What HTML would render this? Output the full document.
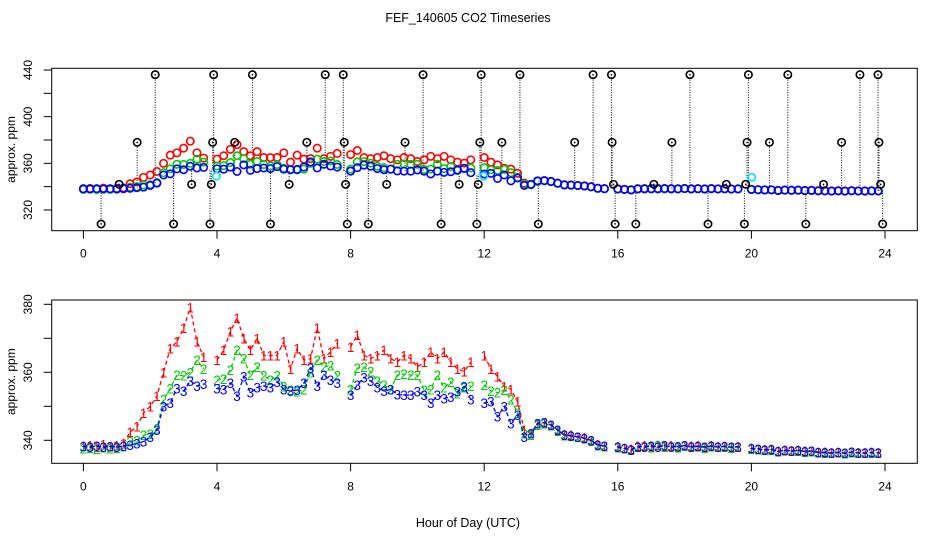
<!DOCTYPE html>
<html><head><meta charset="utf-8"><style>
html,body{margin:0;padding:0;background:#fff;}
svg{display:block;font-family:"Liberation Sans",sans-serif;}
</style></head><body>
<svg id="chart" width="936" height="540" viewBox="0 0 936 540" xmlns="http://www.w3.org/2000/svg">
<rect width="936" height="540" fill="#fff"/>
<text x="468" y="22" text-anchor="middle" font-size="12.5">FEF_140605  CO2 Timeseries</text>
<text x="468" y="527" text-anchor="middle" font-size="12.5">Hour of Day (UTC)</text>
<g id="top"></g>
<g id="bot"></g>
</svg>
<script>
const startHour = 0;
const stepHour = 0.2;
const xTicks = [0, 4, 8, 12, 16, 20, 24];
const topYTicks = [320, 340, 360, 380, 400, 420, 440];
const topYLabels = ["320", "", "360", "", "400", "", "440"];
const botYTicks = [340, 350, 360, 370, 380];
const botYLabels = ["340", "", "360", "", "380"];
const red = [338.3,338.5,338,338.8,338.2,338.5,339,342.5,344,348,350,353,360,367,369,373,379,369,364.5,null,
363.6,366.5,372,376,370,366.5,370,365,364.9,365,369,361,367,363.6,364,373,364,366,368.5,null,
367.5,371,365,364,365,366.5,364,363,365,364,361.6,363,366,364,366,363,361,360.2,363,null,
365,361,358.7,355.8,355,351.4,343,342,345,345.2,344.5,343,341.7,341.5,341,340.8,340,338.8,338.3,null,
338.2,337.8,337.4,338.3,338.4,338.2,338.6,338.3,338.4,338.2,338.5,338.3,338.4,338.1,338.4,338.2,338.3,338,338.2,null,
337.7,337.5,337.3,337.4,336.9,337.2,337,337.1,336.8,336.9,336.6,336.5,336.4,336.6,336.3,336.6,336.4,336.4,336.5,336.4];
const green = [337.6,337.8,337.5,337.9,337.6,337.8,338.2,339.6,340,341.5,341.8,343.5,352,355.3,359.2,359,360,363.6,361,null,
357.7,358,360.7,366.5,364,359.2,361.6,359,357.7,359,355.8,354.8,354.3,355,360,363.6,361.6,362,359,null,
355,361.2,361.5,360.2,357.5,356.3,355,359.2,359.5,359.2,359.2,354.8,355,359.2,355.5,357.2,353.8,355.5,356,null,
356.3,354.5,354,354.8,352,348,342,341.5,344.5,345,344.3,342.8,341.4,341.2,340.9,340.5,339.8,338.5,338.2,null,
337.9,337.6,337.1,338,338.2,337.9,338.4,338.1,338.2,337.9,338.3,338.1,338.2,337.8,338.2,338,338.1,337.8,338,null,
337.5,337.3,337.1,337.2,336.7,337,336.8,336.9,336.6,336.7,336.4,336.3,336.2,336.4,336.1,336.4,336.2,336.2,336.3,336.2];
const blue = [338.2,338,338.3,338,338.2,338.1,338.3,338.6,339.1,339.6,341,343,350,351,355.3,354.5,357.5,356,356.5,null,
355.3,355,356.8,353,358.7,354,355.5,356,355.5,357.2,355,354.5,354.8,356.8,361.2,356,359.2,357.7,356.8,null,
353.3,356.3,358.5,357.5,355.5,354.5,355,353.5,353.3,353.3,354.3,353.3,350.9,353.3,352.3,352.8,354.3,355.8,352,null,
350.9,351.4,347,350,345,347.4,341,342,345,345.2,344.5,343,341.5,341.3,341,340.6,339.9,338.6,338.3,null,
338,337.6,337.2,338.1,338.1,338.3,338,338.4,338.1,338.2,338.4,338,338.2,338.1,338.3,338,338.2,338,338.1,null,
337.6,337.4,337.2,337.3,336.7,337,336.9,337,336.7,336.8,336.4,336.4,336.2,336.4,336.2,336.5,336.3,336.2,336.4,336.3];
const spikeHours = [0.53,1.07,1.61,2.15,2.7,3.24,3.79,3.83,3.87,3.9,4.53,5.06,5.6,6.16,6.69,7.24,7.78,7.81,7.85,7.9,8.53,9.08,9.63,10.17,10.71,11.25,11.78,11.82,11.87,11.91,12.53,13.07,13.62,14.71,15.26,15.81,15.83,15.87,15.92,16.54,17.08,17.62,18.16,18.7,19.25,19.79,19.83,19.87,19.91,20.54,21.09,21.63,22.16,22.7,23.25,23.79,23.82,23.87,23.93];
const spikeValues = [308,342,378,436,308,342,308,342,378,436,378,436,308,342,378,436,436,378,342,308,308,342,378,436,308,342,308,342,378,436,378,436,308,378,436,436,378,342,308,308,342,378,436,308,342,308,342,378,436,378,436,308,342,378,436,436,378,342,308];
const cyanHours = [3.98, 11.98, 20.01];
const cyanValues = [349, 349, 348];

const NS = "http://www.w3.org/2000/svg";
function mk(tag, attrs, parent){const e=document.createElementNS(NS,tag);for(const k in attrs)e.setAttribute(k,attrs[k]);parent.appendChild(e);return e;}
const X0 = 83.4, XS = 33.4;
function xs(h){return X0 + h*XS;}
const topP = {l:51.7,r:917.3,t:68.3,b:230.7, y:v=>210-(v-320)*1.1667};
const botP = {l:51.7,r:917.3,t:300,b:463.3, y:v=>440.3-(v-340)*3.4};
function hourAt(i){return startHour + i*stepHour;}

function frame(g,P,ticks,labels,name){
  const box = mk('rect',{x:P.l,y:P.t,width:P.r-P.l,height:P.b-P.t,fill:'none',stroke:'#000','stroke-width':1},g);
  
  
  xTicks.forEach(h=>{
    const t = mk('line',{x1:xs(h),x2:xs(h),y1:P.b,y2:P.b+8,stroke:'#000'},g);
    
    
    const tx = mk('text',{x:xs(h),y:P.b+27,'text-anchor':'middle','font-size':12},g);
    tx.textContent = String(h);
    
    
  });
  ticks.forEach((v,i)=>{
    const y = P.y(v);
    const t = mk('line',{x1:P.l-8,x2:P.l,y1:y,y2:y,stroke:'#000'},g);
    
    
    if(labels[i]){
      const tx = mk('text',{x:0,y:0,transform:`translate(32,${y}) rotate(-90)`,'text-anchor':'middle','font-size':12},g);
      tx.textContent = labels[i];
      
      
    }
  });
  const yt = mk('text',{x:0,y:0,transform:`translate(15,${(P.t+P.b)/2}) rotate(-90)`,'text-anchor':'middle','font-size':12},g);
  yt.textContent = 'approx. ppm';
  
  
}

// TOP PANEL
const gt = document.getElementById('top');


frame(gt, topP, topYTicks, topYLabels, 'top');
spikeHours.forEach((h,i)=>{
  const idx = Math.min(blue.length-1, Math.round((h-startHour)/stepHour));
  let base = blue[idx]; if(base==null) base = blue[idx+1]!=null?blue[idx+1]:blue[idx-1];
  const ln = mk('line',{x1:xs(h),x2:xs(h),y1:topP.y(spikeValues[i]),y2:topP.y(base),stroke:'#000','stroke-width':1,'stroke-dasharray':'1,1.5'},gt);
  
  
});
[[red,'#ff0000','red'],[green,'#00cc00','green'],[blue,'#0000ff','blue']].forEach(([arr,col,nm])=>{
  arr.forEach((v,i)=>{
    if(v==null) return;
    const c = mk('circle',{cx:xs(hourAt(i)),cy:topP.y(v),r:3.7,fill:'none',stroke:col,'stroke-width':1.6},gt);
    
    
  });
});
cyanHours.forEach((h,i)=>{
  const c = mk('circle',{cx:xs(h),cy:topP.y(cyanValues[i]),r:3.7,fill:'none',stroke:'#00e5ee','stroke-width':1.6},gt);
  
  
});
spikeHours.forEach((h,i)=>{
  const c = mk('circle',{cx:xs(h),cy:topP.y(spikeValues[i]),r:3.7,fill:'none',stroke:'#000','stroke-width':1.6},gt);
  
  
  mk('circle',{cx:xs(h),cy:topP.y(spikeValues[i]),r:0.8,fill:'#000'},gt);
});

// BOTTOM PANEL
const gb = document.getElementById('bot');


frame(gb, botP, botYTicks, botYLabels, 'bottom');
[[red,'#ff0000','1','red'],[green,'#00cc00','2','green'],[blue,'#0000ff','3','blue']].forEach(([arr,col,ch,nm])=>{
  let seg = [];
  const segs = [];
  arr.forEach((v,i)=>{ if(v==null){ if(seg.length) segs.push(seg); seg=[]; } else seg.push([xs(hourAt(i)),botP.y(v)]); });
  if(seg.length) segs.push(seg);
  segs.forEach(s=>{
    const pl = mk('polyline',{points:s.map(p=>p.join(',')).join(' '),fill:'none',stroke:col,'stroke-width':1.3,'stroke-dasharray':'4,3'},gb);
    
    
  });
  arr.forEach((v,i)=>{
    if(v==null) return;
    const t = mk('text',{x:xs(hourAt(i)),y:botP.y(v)+5,'text-anchor':'middle','font-size':13.5,fill:col},gb);
    t.textContent = ch;
    
    
  });
});
</script>
</body></html>
